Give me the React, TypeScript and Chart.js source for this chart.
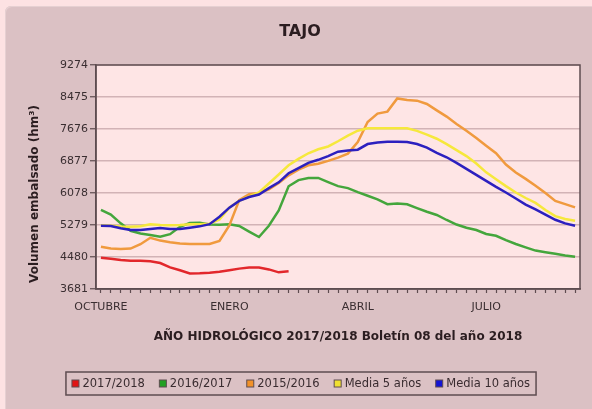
import React, { useEffect, useRef } from "react";
import { Chart, registerables } from "chart.js";

Chart.register(...registerables);

// ---- data ----
const categories = [
  "OCTUBRE", "", "", "", "", "", "", "", "", "", "", "", "",
  "ENERO", "", "", "", "", "", "", "", "", "", "", "", "",
  "ABRIL", "", "", "", "", "", "", "", "", "", "", "", "",
  "JULIO", "", "", "", "", "", "", "", "", "",
];

const yTicks = [3681, 4480, 5279, 6078, 6877, 7676, 8475, 9274];

const serie2017_2018 = [
  4463, 4435, 4405, 4388, 4388, 4375, 4330, 4222, 4150, 4070,
  4075, 4088, 4110, 4150, 4190, 4220, 4215, 4170, 4097, 4122,
];

const serie2016_2017 = [
  5654, 5540, 5320, 5134, 5068, 5030, 4985, 5050, 5233, 5330,
  5335, 5290, 5285, 5296, 5255, 5115, 4980, 5260, 5640, 6245,
  6400, 6450, 6455, 6350, 6250, 6200, 6100, 6010, 5920, 5800,
  5815, 5795, 5700, 5610, 5530, 5404, 5290, 5210, 5154, 5054,
  5010, 4900, 4805, 4720, 4640, 4600, 4560, 4520, 4488,
];

const serie2015_2016 = [
  4737, 4690, 4680, 4690, 4800, 4960, 4890, 4847, 4820, 4805,
  4805, 4805, 4880, 5270, 5900, 6050, 6080, 6170, 6330, 6520,
  6660, 6770, 6810, 6880, 6960, 7060, 7350, 7850, 8060, 8110,
  8440, 8400, 8383, 8300, 8140, 7985, 7800, 7630, 7450, 7256,
  7070, 6790, 6590, 6430, 6260, 6080, 5880, 5800, 5720,
];

const media5 = [
  5275, 5260, 5240, 5235, 5250, 5300, 5280, 5270, 5280, 5300,
  5300, 5310, 5420, 5710, 5880, 5990, 6090, 6315, 6540, 6770,
  6930, 7070, 7170, 7240, 7370, 7510, 7634, 7693, 7693, 7693,
  7693, 7693, 7630, 7537, 7433, 7300, 7150, 7000, 6814, 6593,
  6420, 6250, 6090, 5953, 5830, 5654, 5500, 5430, 5387,
];

const media10 = [
  5262, 5256, 5200, 5154, 5154, 5180, 5205, 5179, 5179, 5210,
  5245, 5300, 5487, 5711, 5880, 5978, 6040, 6200, 6345, 6571,
  6700, 6830, 6907, 7000, 7110, 7140, 7160, 7300, 7340, 7360,
  7360, 7350, 7300, 7210, 7080, 6970, 6830, 6680, 6530, 6380,
  6230, 6090, 5940, 5790, 5670, 5540, 5410, 5320, 5262,
];

const seriesNames = ["2017/2018", "2016/2017", "2015/2016", "Media 5 años", "Media 10 años"];
const lineColors = ["#e2272b", "#44a63c", "#f09a3e", "#f6e83c", "#2c20bf"];
const legendColors = ["#e01414", "#22a022", "#f29128", "#f0e030", "#1414d4"];

const chartTitle = "TAJO";
const xTitle = "AÑO HIDROLÓGICO 2017/2018 Boletín 08 del año 2018";
const yTitle = "Volumen embalsado (hm³)";

const DARK = "#5e4c50";
const TEXT = "#2b1d20";
const FONT = '"DejaVu Sans", sans-serif';

const decorPlugin = {
  id: "decor",
  beforeDraw(chart: any) {
    const { ctx, chartArea: a } = chart;
    ctx.save();
    ctx.fillStyle = "#fee5e5";
    ctx.fillRect(a.left, a.top, a.right - a.left, a.bottom - a.top);
    ctx.restore();
  },
  afterDraw(chart: any) {
    const { ctx, chartArea: a } = chart;
    ctx.save();
    ctx.strokeStyle = DARK;
    ctx.lineWidth = 1.5;
    ctx.strokeRect(a.left, a.top, a.right - a.left, a.bottom - a.top);

    ctx.fillStyle = TEXT;
    ctx.textAlign = "center";
    ctx.textBaseline = "middle";
    ctx.font = "bold 16px " + FONT;
    ctx.fillText(chartTitle, 300, 32);

    ctx.font = "bold 12px " + FONT;
    ctx.fillText(xTitle, (a.left + a.right) / 2, 337);

    ctx.save();
    ctx.translate(35, 194);
    ctx.rotate(-Math.PI / 2);
    ctx.fillText(yTitle, 0, 0);
    ctx.restore();

    // legend
    ctx.font = "11.5px " + FONT;
    const ds = chart.data.datasets;
    const sq = 7, gapT = 3.5, gapI = 14.5, padX = 6;
    const widths = ds.map((d: any) => ctx.measureText(d.label).width);
    const total = widths.reduce((s: number, w: number) => s + sq + gapT + w, 0) + gapI * (ds.length - 1);
    const boxW = total + padX * 2;
    const boxX = 301 - boxW / 2;
    const boxY = 372;
    const boxH = 23;
    ctx.strokeStyle = DARK;
    ctx.lineWidth = 1.5;
    ctx.strokeRect(boxX, boxY, boxW, boxH);
    const cy = boxY + boxH / 2;
    let x = boxX + padX;
    ctx.textAlign = "left";
    ds.forEach((d: any, i: number) => {
      ctx.fillStyle = d.legendColor;
      ctx.fillRect(x, cy - sq / 2, sq, sq);
      ctx.lineWidth = 1;
      ctx.strokeStyle = DARK;
      ctx.strokeRect(x, cy - sq / 2, sq, sq);
      ctx.fillStyle = "#3a2c30";
      ctx.fillText(d.label, x + sq + gapT, cy + 0.5);
      x += sq + gapT + widths[i] + gapI;
    });
    ctx.restore();
  },
};

export default function App() {
  const ref = useRef<HTMLCanvasElement | null>(null);

  useEffect(() => {
    if (!ref.current) return;
    const allSeries = [serie2017_2018, serie2016_2017, serie2015_2016, media5, media10];
    const orders = [4, 3, 2, 1, 0];
    const chart = new Chart(ref.current, {
      type: "line",
      data: {
        labels: categories,
        datasets: allSeries.map((s, i) => ({
          label: seriesNames[i],
          data: s,
          borderColor: lineColors[i],
          backgroundColor: lineColors[i],
          legendColor: legendColors[i],
          borderWidth: 2.5,
          pointRadius: 0,
          tension: 0,
          fill: false,
          order: orders[i],
        })) as any,
      },
      options: {
        animation: false,
        responsive: false,
        devicePixelRatio: 1,
        layout: { padding: { left: 0, right: 12, top: 65, bottom: 90 } },
        plugins: {
          legend: { display: false },
          title: { display: false },
          tooltip: { enabled: false },
        },
        scales: {
          x: {
            type: "category",
            offset: true,
            afterFit: (s: any) => { s.height = 30; },
            grid: {
              display: true,
              drawOnChartArea: false,
              drawTicks: true,
              tickLength: 4,
              tickColor: DARK,
              tickWidth: 1.2,
              offset: false,
            },
            border: { display: true, color: DARK, width: 1.5 },
            ticks: {
              autoSkip: false,
              maxRotation: 0,
              minRotation: 0,
              padding: 8,
              color: "#3a2e31",
              font: { family: "DejaVu Sans", size: 11 },
            },
          },
          y: {
            type: "linear",
            min: 3681,
            max: 9274,
            afterFit: (s: any) => { s.width = 96; },
            afterBuildTicks: (s: any) => { s.ticks = yTicks.map((v) => ({ value: v })); },
            grid: {
              color: "#d2b3b6",
              lineWidth: 1.5,
              drawTicks: true,
              tickLength: 6,
              tickColor: DARK,
              tickWidth: 1.2,
            },
            border: { display: true, color: DARK, width: 1.5 },
            ticks: {
              padding: 2,
              color: "#3a2e31",
              font: { family: "DejaVu Sans", size: 11 },
              callback: (v: any) => String(v),
            },
          },
        },
      } as any,
      plugins: [decorPlugin],
    });
    return () => chart.destroy();
  }, []);

  return (
    <div style={{ position: "fixed", left: 0, top: 0, width: 592, height: 409, background: "#fde2e3", overflow: "hidden" }}>
      <div style={{ position: "absolute", left: 5, top: 6, width: 600, height: 420, background: "#dbc1c4", borderRadius: 6, boxShadow: "inset 1px 1px 0 #e6d0d2" }} />
      <canvas ref={ref} width={592} height={409} style={{ position: "absolute", left: 0, top: 0, display: "block" }} />
    </div>
  );
}
